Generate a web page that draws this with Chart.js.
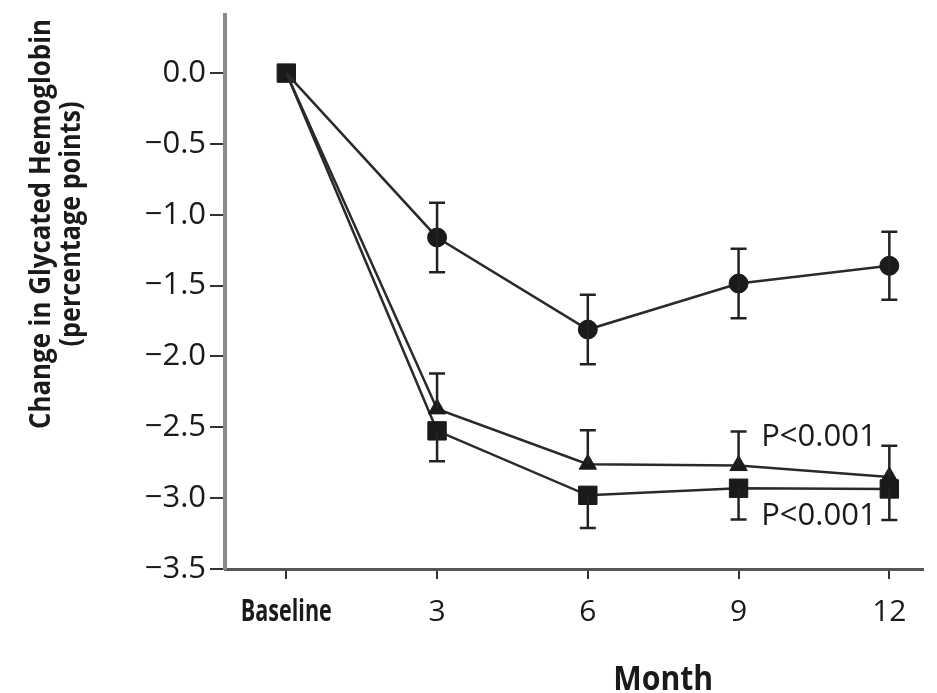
<!DOCTYPE html>
<html>
<head>
<meta charset="utf-8">
<script src="https://cdn.jsdelivr.net/npm/chart.js@4.4.1/dist/chart.umd.min.js"></script>
<style>
  html, body { margin: 0; padding: 0; background: #ffffff; }
  #wrap { width: 937px; height: 693px; position: relative; }
</style>
</head>
<body>
<div id="wrap"><canvas id="c" width="937" height="693"></canvas></div>
<script>
// ---- Data ----
const months = [0, 3, 6, 9, 12];
const xTickLabels = ['Baseline', '3', '6', '9', '12'];
const yTicks = [0, -0.5, -1.0, -1.5, -2.0, -2.5, -3.0, -3.5];

const circleValues = [0, -1.16, -1.81, -1.485, -1.36];
const circleErr = [0, 0.245, 0.245, 0.245, 0.24];

const triangleValues = [0, -2.37, -2.76, -2.77, -2.85];
const triangleErrUp = [0, 0.25, 0.24, 0.24, 0.22];

const squareValues = [0, -2.525, -2.98, -2.93, -2.935];
const squareErrDown = [0, 0.215, 0.23, 0.22, 0.22];

const pLabels = [
  { x: 9.45, y: -2.57, text: 'P<0.001' },
  { x: 9.45, y: -3.125, text: 'P<0.001' }
];
const xTitle = 'Month';
const yTitleLines = ['Change in Glycated Hemoglobin', '(percentage points)'];

// ---- Styling ----
const INK = '#1a1a1a';
const LINE = '#2a2a2a';
const REG = '"Open Sans", "Noto Sans", sans-serif';

function pts(vals) { return months.map((m, i) => ({ x: m, y: vals[i] })); }

// draw text squeezed horizontally to a target width (centered at x)
function drawSqueezed(ctx, text, x, y, targetW) {
  const w = ctx.measureText(text).width;
  const k = Math.min(1, targetW / w);
  ctx.save();
  ctx.translate(x, y);
  ctx.scale(k, 1);
  ctx.textAlign = 'center';
  ctx.fillText(text, 0, 0);
  ctx.restore();
}

const errorBars = [
  { values: circleValues, up: circleErr, down: circleErr },
  { values: triangleValues, up: triangleErrUp, down: months.map(() => 0) },
  { values: squareValues, up: months.map(() => 0), down: squareErrDown }
];

const errorPlugin = {
  id: 'errorBars',
  afterDatasetsDraw(chart) {
    const { ctx, scales: { x, y } } = chart;
    ctx.save();
    ctx.strokeStyle = '#222';
    ctx.lineWidth = 2.5;
    errorBars.forEach(s => {
      months.forEach((m, i) => {
        const px = x.getPixelForValue(m);
        const v = s.values[i];
        [[s.up[i], 1], [s.down[i], -1]].forEach(([e, dir]) => {
          if (!e) return;
          const py0 = y.getPixelForValue(v);
          const py1 = y.getPixelForValue(v + dir * e);
          ctx.beginPath();
          ctx.moveTo(px, py0);
          ctx.lineTo(px, py1);
          ctx.moveTo(px - 8, py1);
          ctx.lineTo(px + 8, py1);
          ctx.stroke();
        });
      });
    });
    ctx.restore();
  }
};

const textPlugin = {
  id: 'texts',
  afterDraw(chart) {
    const { ctx, scales: { x, y } } = chart;
    ctx.save();
    ctx.fillStyle = INK;
    // P labels
    ctx.font = '31px ' + REG;
    ctx.textAlign = 'left';
    ctx.textBaseline = 'middle';
    pLabels.forEach(p => {
      ctx.fillText(p.text, x.getPixelForValue(p.x), y.getPixelForValue(p.y));
    });
    // x tick labels
    ctx.textBaseline = 'alphabetic';
    const axisY = y.bottom;
    months.forEach((m, i) => {
      const px = x.getPixelForValue(m);
      if (i === 0) {
        ctx.font = 'bold 30px ' + REG;
        drawSqueezed(ctx, xTickLabels[i], px, axisY + 52, 91);
      } else {
        ctx.font = '30px ' + REG;
        drawSqueezed(ctx, xTickLabels[i], px, axisY + 52, 40);
      }
    });
    // x title
    ctx.font = 'bold 34px ' + REG;
    drawSqueezed(ctx, xTitle, x.getPixelForValue(7.5), 690, 100);
    // y title (rotated, two lines)
    ctx.translate(0, 224);
    ctx.rotate(-Math.PI / 2);
    ctx.font = 'bold 28px ' + REG;
    ctx.textBaseline = 'middle';
    drawSqueezed(ctx, yTitleLines[0], 0, 42, 410);
    drawSqueezed(ctx, yTitleLines[1], 0, 72, 245);
    ctx.restore();
  }
};

const baseDs = {
  borderColor: LINE,
  borderWidth: 2.5,
  pointBackgroundColor: INK,
  pointBorderColor: INK,
  pointBorderWidth: 1,
  tension: 0,
  clip: false,
  fill: false
};

new Chart(document.getElementById('c'), {
  type: 'line',
  data: {
    datasets: [
      Object.assign({}, baseDs, { label: 'circle', data: pts(circleValues), pointStyle: 'circle', pointRadius: [0, 9.5, 9.5, 9.5, 9.5] }),
      Object.assign({}, baseDs, { label: 'triangle', data: pts(triangleValues), pointStyle: 'triangle', pointRadius: [0, 10, 10, 10, 10] }),
      Object.assign({}, baseDs, { label: 'square', data: pts(squareValues), pointStyle: 'rect', pointRadius: 13 })
    ]
  },
  options: {
    responsive: false,
    animation: false,
    events: [],
    layout: { padding: { left: 0, top: 15, right: 7, bottom: 0 } },
    plugins: { legend: { display: false }, tooltip: { enabled: false }, title: { display: false } },
    scales: {
      x: {
        type: 'linear',
        min: -1.22,
        max: 12.67,
        afterBuildTicks(scale) { scale.ticks = months.map(v => ({ value: v })); },
        afterFit(scale) { scale.height = 124; },
        border: { display: true, color: '#555', width: 3 },
        grid: { drawOnChartArea: false, drawTicks: true, tickLength: 10, color: '#333', lineWidth: 2 },
        ticks: { display: false }
      },
      y: {
        type: 'linear',
        min: -3.5,
        max: 0.41,
        afterBuildTicks(scale) { scale.ticks = yTicks.map(v => ({ value: v })); },
        afterFit(scale) { scale.width = 225; scale.paddingTop = 0; scale.paddingBottom = 0; },
        border: { display: true, color: '#8a8a8a', width: 4 },
        grid: { drawOnChartArea: false, drawTicks: true, tickLength: 15, color: '#333', lineWidth: 2 },
        ticks: {
          padding: 4,
          color: INK,
          font: { family: REG, size: 31, lineHeight: 0.8 },
          callback: v => v.toFixed(1).replace('-', '\u2212')
        }
      }
    }
  },
  plugins: [errorPlugin, textPlugin]
});
</script>
</body>
</html>
